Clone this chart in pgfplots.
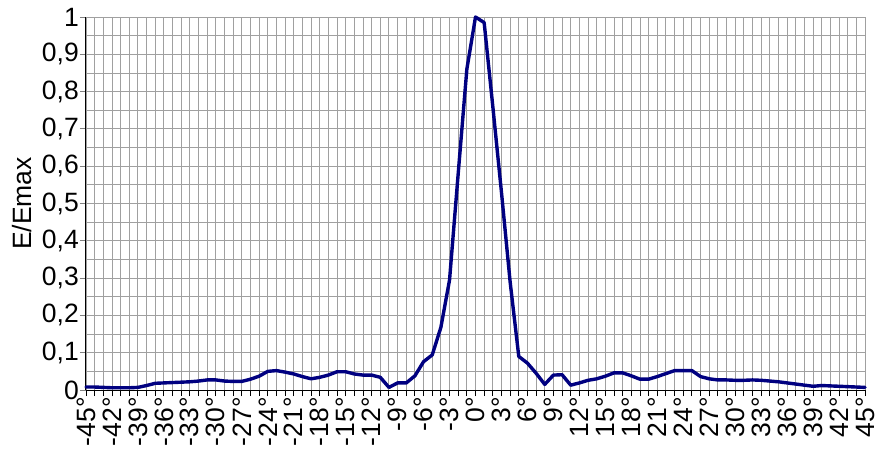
\documentclass[border=0pt]{standalone}
\usepackage{fontspec}
\setmainfont{Liberation Sans}
\usepackage{pgfplots}
\pgfplotsset{compat=1.18}
\definecolor{navyline}{RGB}{0,0,128}
\definecolor{gridgray}{RGB}{160,160,160}
\begin{document}
\begin{tikzpicture}
\begin{axis}[
  scale only axis, width=779pt, height=373pt,
  xmin=-45, xmax=45, ymin=0, ymax=1,
  axis x line*=bottom, axis y line*=left,
  axis line style={black, line width=1pt, -},
  /pgf/number format/assume math mode=true,
  font=\fontsize{26.5}{29}\selectfont,
  xtick={-45,-42,...,45},
  minor xtick={-44,-43,...,44},
  xticklabels={-45°,-42°,-39°,-36°,-33°,-30°,-27°,-24°,-21°,-18°,-15°,{-12°\hspace{8pt}},-9°,-6°,-3°,0°,3°,6°,9°,12°,15°,18°,21°,24°,27°,30°,33°,36°,39°,42°,45°},
  xticklabel style={rotate=90, anchor=east, inner sep=1pt},
  ytick={0,0.1,0.2,0.3,0.4,0.5,0.6,0.7,0.8,0.9,1},
  yticklabels={0,{0,1},{0,2},{0,3},{0,4},{0,5},{0,6},{0,7},{0,8},{0,9},1},
  yticklabel style={inner sep=1pt},
  extra y ticks={0.05,0.15,0.25,0.35,0.45,0.55,0.65,0.75,0.85,0.95},
  extra y tick labels={},
  extra y tick style={grid=major, major tick length=0pt},
  grid=both,
  major grid style={gridgray, line width=0.9pt},
  minor grid style={gridgray, line width=0.9pt},
  tick align=outside,
  major tick length=6pt, minor tick length=6pt,
  x tick style={black, line width=0.9pt},
  y tick style={gray, line width=0.9pt},
  ylabel={E/Emax},
  every axis y label/.style={at={(axis description cs:-0.082,0.5)}, anchor=center, rotate=90},
  clip=false,
]
\coordinate (BL) at (rel axis cs:0,0);
\addplot[navyline, line width=3.4pt, line join=round, line cap=round] coordinates {
(-45,0.008) (-44,0.008) (-43,0.007) (-42,0.006) (-41,0.006) (-40,0.006)
(-39,0.007) (-38,0.012) (-37,0.018) (-36,0.019) (-35,0.020) (-34,0.021)
(-33,0.022) (-32,0.024) (-31,0.027) (-30,0.027) (-29,0.024) (-28,0.023)
(-27,0.023) (-26,0.029) (-25,0.037) (-24,0.050) (-23,0.052) (-22,0.048)
(-21,0.043) (-20,0.036) (-19,0.030) (-18,0.034) (-17,0.040) (-16,0.049)
(-15,0.049) (-14,0.043) (-13,0.040) (-12,0.040) (-11,0.034) (-10,0.007)
(-9,0.019) (-8,0.019) (-7,0.038) (-6,0.076) (-5,0.094) (-4,0.168)
(-3,0.295) (-2,0.58) (-1,0.86) (0,1.0) (1,0.985) (2,0.76)
(3,0.53) (4,0.29) (5,0.09) (6,0.072) (7,0.045) (8,0.015)
(9,0.040) (10,0.041) (11,0.013) (12,0.019) (13,0.026) (14,0.030)
(15,0.037) (16,0.046) (17,0.046) (18,0.038) (19,0.029) (20,0.029)
(21,0.036) (22,0.044) (23,0.052) (24,0.052) (25,0.052) (26,0.036)
(27,0.030) (28,0.027) (29,0.027) (30,0.026) (31,0.026) (32,0.027)
(33,0.026) (34,0.024) (35,0.022) (36,0.019) (37,0.016) (38,0.013)
(39,0.010) (40,0.012) (41,0.011) (42,0.010) (43,0.009) (44,0.008)
(45,0.007)
};
\end{axis}
\pgfresetboundingbox
\path ([xshift=-86pt,yshift=-58pt]BL) rectangle ([xshift=796pt,yshift=390pt]BL);
\end{tikzpicture}
\end{document}
